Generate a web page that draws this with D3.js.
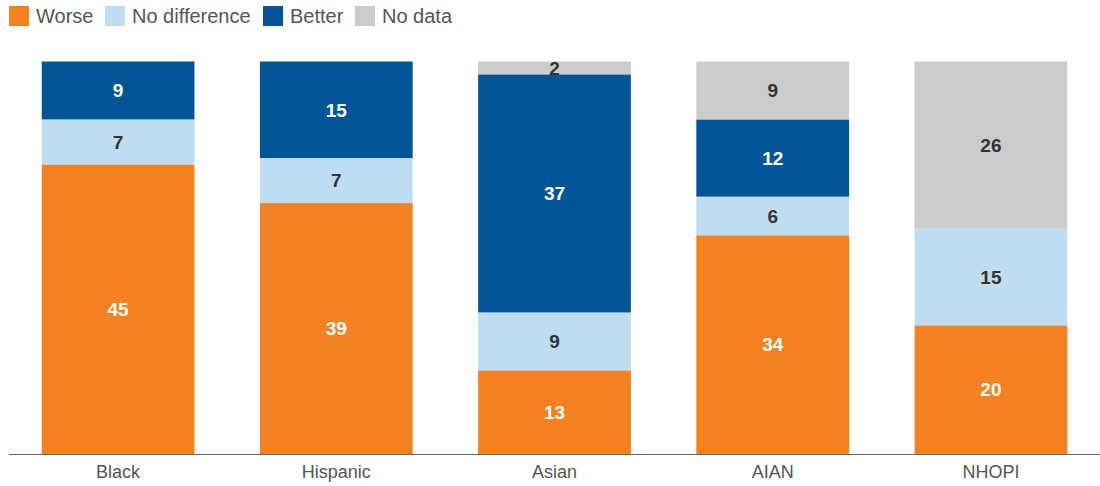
<!DOCTYPE html>
<html>
<head>
<meta charset="utf-8">
<script src="https://cdn.jsdelivr.net/npm/d3@7"></script>
<style>
  html, body { margin: 0; padding: 0; background: #fff; }
  svg { display: block; font-family: "Liberation Sans", Arial, sans-serif; }
</style>
</head>
<body>
<svg id="chart" width="1100" height="486"></svg>
<script>
// Categories and the count of measures in each comparison group
const groups = ["Black", "Hispanic", "Asian", "AIAN", "NHOPI"];
const seriesNames = ["Worse", "No difference", "Better", "No data"];
const worse = [45, 39, 13, 34, 20];
const noDifference = [7, 7, 9, 6, 15];
const better = [9, 15, 37, 12, 0];
const noData = [0, 0, 2, 9, 26];
const colors = ["#F58220", "#BFDDF1", "#005596", "#CCCCCC"];
const labelColors = ["#ffffff", "#333333", "#ffffff", "#333333"];

const table = groups.map((g, i) => ({
  group: g,
  "Worse": worse[i],
  "No difference": noDifference[i],
  "Better": better[i],
  "No data": noData[i]
}));

const svg = d3.select("#chart");

const x = d3.scaleBand().domain(groups).range([9, 1100]).paddingInner(0.3).paddingOuter(0.15);
const total = d3.max(table, d => seriesNames.reduce((s, k) => s + d[k], 0));
const y = d3.scaleLinear().domain([0, total]).range([454, 61.5]);

const stacked = d3.stack().keys(seriesNames)(table);

const layers = svg.append("g").selectAll("g")
  .data(stacked)
  .join("g")
  .attr("fill", (d, i) => colors[i]);

layers.selectAll("rect")
  .data(d => d.filter(p => p[1] - p[0] > 0))
  .join("rect")
  .attr("x", d => x(d.data.group))
  .attr("width", x.bandwidth())
  .attr("y", d => y(d[1]))
  .attr("height", d => y(d[0]) - y(d[1]));

// Value labels centred in each segment
stacked.forEach((layer, i) => {
  svg.append("g").selectAll("text")
    .data(layer.filter(p => p[1] - p[0] > 0))
    .join("text")
    .attr("x", d => x(d.data.group) + x.bandwidth() / 2)
    .attr("y", d => (y(d[0]) + y(d[1])) / 2)
    .attr("dy", "0.36em")
    .attr("text-anchor", "middle")
    .attr("font-size", 19)
    .attr("font-weight", "bold")
    .attr("fill", labelColors[i])
    .text(d => d[1] - d[0]);
});

// Category axis
const axis = svg.append("g")
  .attr("transform", "translate(0,454)")
  .call(d3.axisBottom(x).tickSize(0).tickPadding(11));
axis.select(".domain").attr("d", "M9,0.5H1100").attr("stroke", "#666").attr("stroke-width", 1.2);
axis.selectAll("text")
  .attr("font-size", 18)
  .attr("font-family", "Liberation Sans, Arial, sans-serif")
  .attr("fill", "#555");

// Legend
const legendX = [9, 105, 263, 355];
const legend = svg.append("g").selectAll("g")
  .data(seriesNames)
  .join("g")
  .attr("transform", (d, i) => `translate(${legendX[i]},6)`);
legend.append("rect")
  .attr("width", 20).attr("height", 20)
  .attr("fill", (d, i) => colors[i]);
legend.append("text")
  .attr("x", 27).attr("y", 10).attr("dy", "0.36em")
  .attr("font-size", 20)
  .attr("fill", "#555")
  .text(d => d);
</script>
</body>
</html>
